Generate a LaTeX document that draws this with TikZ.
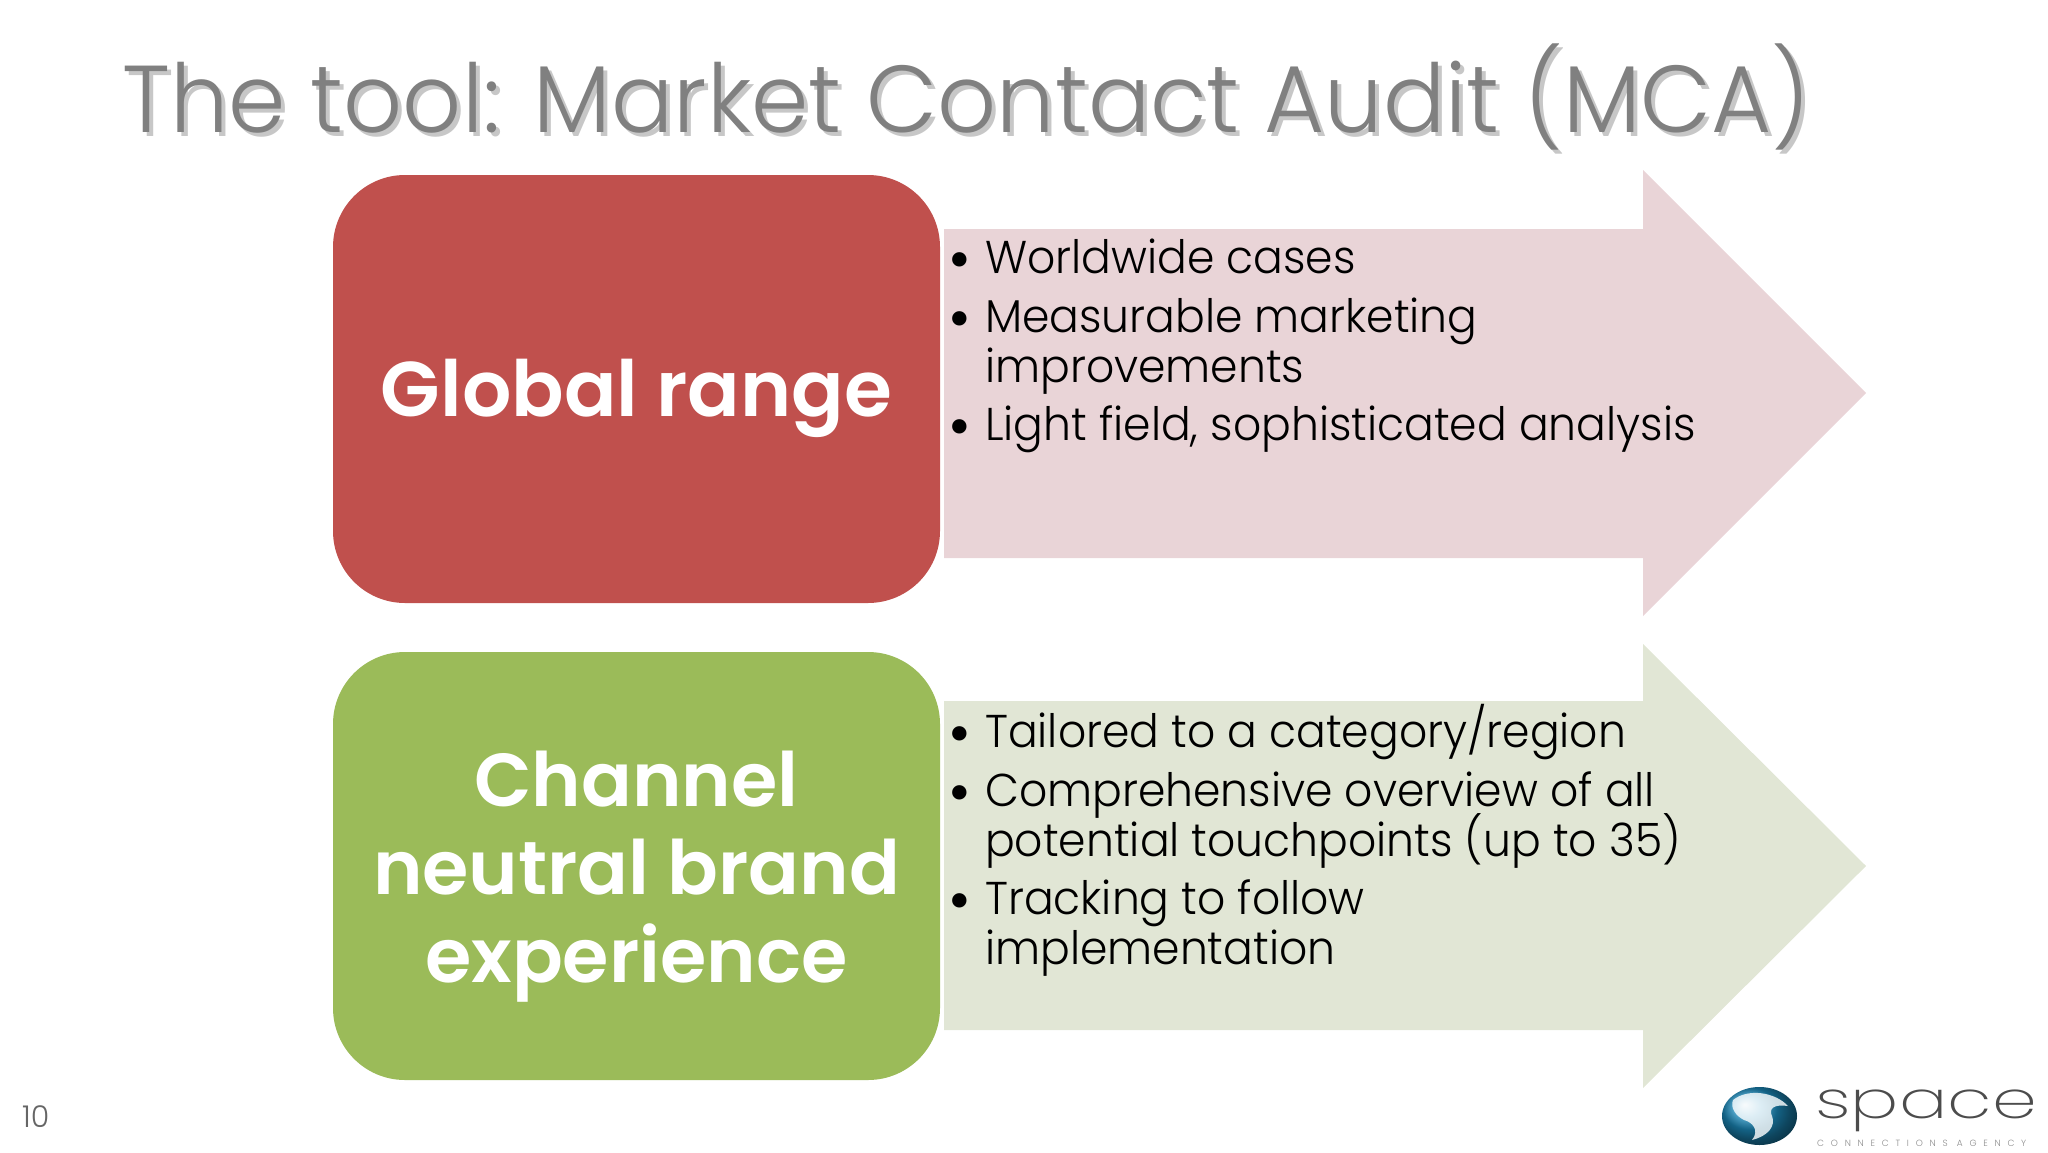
\documentclass[tikz,border=0pt]{standalone}
\usepackage{fontspec}
\usetikzlibrary{positioning, shadings}
\setmainfont{Poppins Light}[BoldFont={Poppins SemiBold}]
\newfontfamily\listfont{Poppins Light}[FakeStretch=0.958]
\newfontfamily\titlefont{Poppins Light}[FakeStretch=0.97]
\newfontfamily\logofont{Poppins ExtraLight}[FakeStretch=1.38]
\newcommand{\boxtop}{\rule{0pt}{76pt}}
\definecolor{mcared}{RGB}{192, 80, 77}
\definecolor{mcagreen}{RGB}{155, 187, 89}
\definecolor{mcapink}{RGB}{233, 212, 215}
\definecolor{mcasage}{RGB}{225, 230, 213}
\definecolor{mcatitle}{RGB}{128, 128, 128}
\definecolor{mcaball}{RGB}{28, 140, 190}
\tikzset{
    x=1pt, y=-1pt,
    headbox/.style={rounded corners=72pt, minimum width=607pt, minimum height=428pt, inner sep=0pt, font=\fontsize{75}{88}\selectfont\bfseries, text=white, align=center},
    itemtext/.style={anchor=base west, inner sep=0pt, font=\listfont\fontsize{46}{46}\selectfont, text=black},
    itemdot/.style={anchor=base, inner sep=0pt, yshift=-7pt, font=\fontsize{62}{62}\selectfont, text=black},
    titletext/.style={anchor=base west, inner sep=0pt, font=\titlefont\fontsize{95}{95}\selectfont, text=mcatitle}
}
\begin{document}
\begin{tikzpicture}
    \useasboundingbox (0,0) rectangle (2048,1152);
    % arrows behind the lists
    \fill[mcapink] (944,229) -- (1643,229) -- (1643,170) -- (1866,393) -- (1643,616) -- (1643,558) -- (944,558) -- cycle;
    \fill[mcasage] (944,701) -- (1643,701) -- (1643,644) -- (1866,866) -- (1643,1088) -- (1643,1030) -- (944,1030) -- cycle;
    % title with its shadow
    \node[titletext, text=black!22] (titleshadow) at (126,136) {The tool: Market Contact Audit (MCA)};
    \node[titletext] (title) at (122,132) {The tool: Market Contact Audit (MCA)};
    % boxes
    \node[headbox, fill=mcared, font=\fontsize{77.5}{88}\selectfont\bfseries] (globalbox) at (636.5,389) {\boxtop Global range};
    \node[headbox, fill=mcagreen] (channelbox) at (636.5,866) {\boxtop Channel\\neutral brand\\experience};
    % first list
    \node[itemdot] (dota) at (960,273) {\textbullet};
    \node[itemtext] (itema) at (985,273) {Worldwide cases};
    \node[itemdot] (dotb) at (960,332) {\textbullet};
    \node[itemtext] (itemb) at (985,332) {Measurable marketing};
    \node[itemtext] (itemc) at (985,382) {improvements};
    \node[itemdot] (dotc) at (960,440) {\textbullet};
    \node[itemtext] (itemd) at (985,440) {Light field, sophisticated analysis};
    % second list
    \node[itemdot] (dotd) at (960,747) {\textbullet};
    \node[itemtext] (iteme) at (985,747) {Tailored to a category/region};
    \node[itemdot] (dote) at (960,806) {\textbullet};
    \node[itemtext] (itemf) at (985,806) {Comprehensive overview of all};
    \node[itemtext] (itemg) at (985,856) {potential touchpoints (up to 35)};
    \node[itemdot] (dotf) at (960,914) {\textbullet};
    \node[itemtext] (itemh) at (985,914) {Tracking to follow};
    \node[itemtext] (itemi) at (985,964) {implementation};
    % page number
    \node[anchor=base west, inner sep=0pt, font=\fontsize{30}{30}\selectfont, text=black!60] (pagenum) at (22,1127) {10};
    % logo
    \shade[ball color=mcaball] (1759.5,1116) ellipse (37.5 and 29);
    \fill[white, opacity=0.8] (1733,1100) .. controls (1748,1088) and (1775,1092) .. (1788,1106) .. controls (1775,1104) and (1768,1108) .. (1772,1116) .. controls (1776,1126) and (1768,1136) .. (1752,1140) .. controls (1760,1130) and (1752,1122) .. (1744,1120) .. controls (1736,1116) and (1730,1108) .. cycle;
    \node[anchor=base west, inner sep=0pt, font=\logofont\fontsize{52}{52}\selectfont, text=black!70] (logoname) at (1815,1118) {space};
    \node[anchor=base west, inner sep=0pt, font=\fontsize{9}{9}\selectfont\addfontfeature{LetterSpace=75}, text=black!45] (logosub) at (1817,1146) {CONNECTIONS AGENCY};
\end{tikzpicture}
\end{document}
